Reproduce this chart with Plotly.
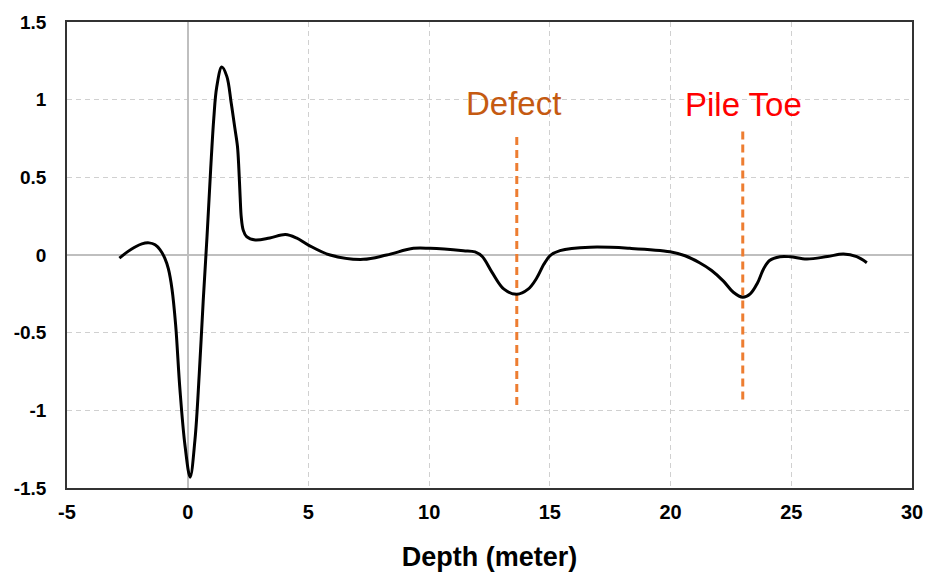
import plotly.graph_objects as go

depth = [-2.83, -2.5, -2.2, -1.9, -1.6, -1.35, -1.15, -0.95, -0.8, -0.65, -0.5, -0.32, -0.11, 0.1,
         0.3, 0.48, 0.64, 0.8, 0.95, 1.08, 1.2, 1.41, 1.62, 1.8, 1.95, 2.06, 2.12, 2.17, 2.22, 2.3,
         2.44, 2.8, 3.4, 4.05, 4.5, 5.0, 5.9, 7.27, 8.24, 9.35, 10.04, 11.42, 11.9, 12.2,
         12.6, 13.1, 13.63, 14.1, 14.45, 14.75, 15.0, 15.42, 16.67, 18.32, 19.98, 20.6,
         21.2, 21.7, 22.2, 22.6, 22.99, 23.3, 23.6, 23.85, 24.1, 24.53, 24.95, 25.64, 26.5, 27.16,
         27.71, 28.13]
amplitude = [-0.02, 0.02, 0.05, 0.072, 0.078, 0.066, 0.035, -0.02, -0.09, -0.22, -0.45, -0.87, -1.23, -1.43,
             -1.19, -0.76, -0.3, 0.12, 0.55, 0.88, 1.08, 1.21, 1.15, 0.98, 0.82, 0.7, 0.55, 0.38, 0.24, 0.16,
             0.118, 0.097, 0.11, 0.132, 0.11, 0.064, 0.0, -0.028, 0.0, 0.043, 0.043, 0.028, 0.02, -0.01,
             -0.11, -0.22, -0.253, -0.22, -0.15, -0.06, -0.005, 0.028, 0.05, 0.043, 0.021, -0.005,
             -0.05, -0.1, -0.17, -0.24, -0.272, -0.25, -0.18, -0.09, -0.035, -0.011, -0.011, -0.026, -0.01, 0.006,
             -0.011, -0.05]

markers = ["Defect", "Pile Toe"]
marker_depth = [13.63, 22.99]
marker_top = [0.76, 0.805]
marker_bottom = [-0.966, -0.93]
label_depth = [13.5, 23.0]
label_y = [0.975, 0.97]
label_colors = ["#C55A11", "#FF0000"]

x_ticks = [-5, 0, 5, 10, 15, 20, 25, 30]
y_ticks = [-1.5, -1, -0.5, 0, 0.5, 1, 1.5]

fig = go.Figure()
for d, t, b in zip(marker_depth, marker_top, marker_bottom):
    fig.add_trace(go.Scatter(x=[d, d], y=[b, t], mode="lines",
                             line=dict(color="#ED7D31", width=3, dash="8px,5px"),
                             showlegend=False, hoverinfo="skip"))
fig.add_trace(go.Scatter(x=depth, y=amplitude, mode="lines",
                         line=dict(color="black", width=3, shape="spline", smoothing=1.0),
                         showlegend=False))

for name, d, y, c in zip(markers, label_depth, label_y, label_colors):
    fig.add_annotation(x=d, y=y, text=name, showarrow=False,
                       font=dict(family="Liberation Sans, Arial", size=33, color=c),
                       xanchor="center", yanchor="middle")

fig.update_layout(
    width=929, height=577,
    margin=dict(l=67, r=17, t=22, b=89),
    plot_bgcolor="white", paper_bgcolor="white",
    font=dict(family="Liberation Sans, Arial", color="black"),
)
fig.update_xaxes(
    range=[-5, 30], tickvals=x_ticks, ticktext=[str(v) for v in x_ticks],
    showgrid=True, gridcolor="#D0D0D0", griddash="5px,4px", gridwidth=1,
    zeroline=True, zerolinecolor="#BFBFBF", zerolinewidth=1.5,
    showline=True, mirror=True, linecolor="#333333", linewidth=1.5,
    ticks="", ticklabelstandoff=5, automargin=False,
    tickfont=dict(family="Liberation Sans, Arial", size=20, weight="bold"),
    title=dict(text="<b>Depth (meter)</b>", font=dict(size=27, family="Liberation Sans, Arial"), standoff=25),
)
fig.update_yaxes(
    range=[-1.5, 1.5], tickvals=y_ticks, ticktext=[f"{v:g}" for v in y_ticks],
    showgrid=True, gridcolor="#D0D0D0", griddash="5px,4px", gridwidth=1,
    zeroline=True, zerolinecolor="#BFBFBF", zerolinewidth=1.5,
    showline=True, mirror=True, linecolor="#333333", linewidth=1.5,
    ticks="", ticklabelstandoff=15, automargin=False,
    tickfont=dict(family="Liberation Sans, Arial", size=19, weight="bold"),
)

fig.write_html("out.html")
